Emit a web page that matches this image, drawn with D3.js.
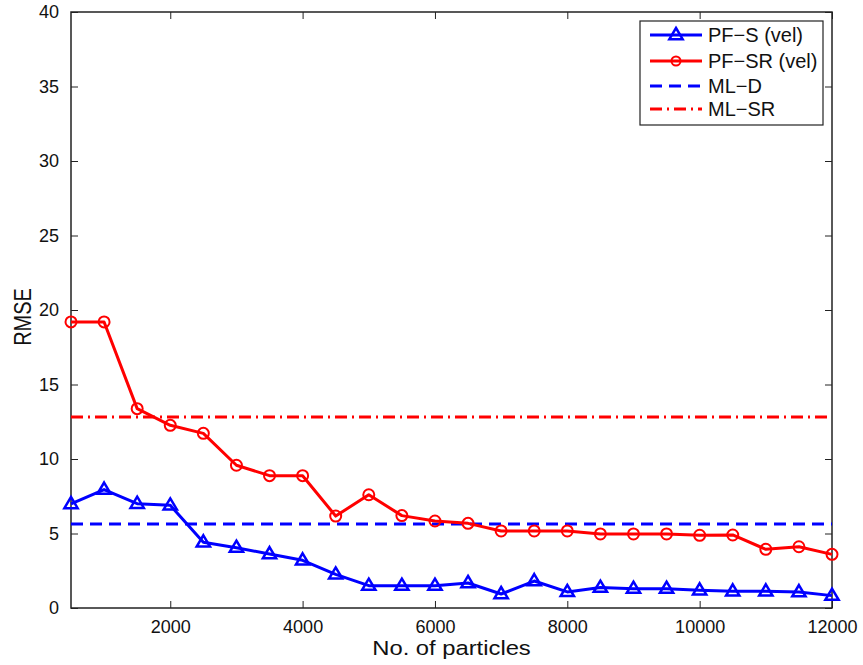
<!DOCTYPE html>
<html>
<head>
<meta charset="utf-8">
<script src="https://cdn.jsdelivr.net/npm/d3@7"></script>
<style>
  html, body { margin: 0; padding: 0; background: #fff; }
  svg text { font-family: "Liberation Sans", Arial, Helvetica, sans-serif; fill: #111; }
</style>
</head>
<body>
<svg id="chart" width="863" height="665"></svg>
<script>
// Number of particles
const particles = [500, 1000, 1500, 2000, 2500, 3000, 3500, 4000, 4500, 5000, 5500, 6000,
                   6500, 7000, 7500, 8000, 8500, 9000, 9500, 10000, 10500, 11000, 11500, 12000];
// RMSE of the particle filters
const pfS  = [6.98, 7.95, 7.0, 6.89, 4.41, 4.05, 3.62, 3.2, 2.26, 1.5, 1.5, 1.5,
              1.68, 0.94, 1.81, 1.08, 1.37, 1.3, 1.3, 1.19, 1.12, 1.12, 1.07, 0.83];
const pfSR = [19.2, 19.2, 13.38, 12.26, 11.72, 9.58, 8.88, 8.88, 6.17, 7.6, 6.2, 5.84,
              5.68, 5.17, 5.17, 5.17, 4.97, 4.97, 4.97, 4.88, 4.9, 3.94, 4.11, 3.6];
// Constant reference levels
const mlD  = 5.64;
const mlSR = 12.82;
const xTicks = [2000, 4000, 6000, 8000, 10000, 12000];
const yTicks = [0, 5, 10, 15, 20, 25, 30, 35, 40];
const legendLabels = ["PF\u2212S (vel)", "PF\u2212SR (vel)", "ML\u2212D", "ML\u2212SR"];

const svg = d3.select("#chart");
const L = 71, R = 832, T = 12, B = 608;
const x = d3.scaleLinear().domain([500, 12000]).range([L, R]);
const y = d3.scaleLinear().domain([0, 40]).range([B, T]);

const blue = "#0000ff", red = "#ff0000";
const dashD = "12,7", dashSR = "12,5,2,5";

// Axes with inward ticks, mirrored on top and right
const tickLen = 7;
svg.append("g").attr("transform", `translate(0,${B})`)
  .call(d3.axisBottom(x).tickValues(xTicks).tickSizeInner(-tickLen).tickSizeOuter(0).tickPadding(12).tickFormat(d3.format("d")))
  .call(g => g.select(".domain").remove())
  .call(g => g.selectAll("text").attr("font-size", 18).attr("dy", "0.71em"));
svg.append("g").attr("transform", `translate(${L},0)`)
  .call(d3.axisLeft(y).tickValues(yTicks).tickSizeInner(-tickLen).tickSizeOuter(0).tickPadding(12))
  .call(g => g.select(".domain").remove())
  .call(g => g.selectAll("text").attr("font-size", 18));
svg.append("g").attr("transform", `translate(0,${T})`)
  .call(d3.axisTop(x).tickValues(xTicks).tickSizeInner(-tickLen).tickSizeOuter(0).tickFormat(""))
  .call(g => g.select(".domain").remove());
svg.append("g").attr("transform", `translate(${R},0)`)
  .call(d3.axisRight(y).tickValues(yTicks).tickSizeInner(-tickLen).tickSizeOuter(0).tickFormat(""))
  .call(g => g.select(".domain").remove());
svg.selectAll(".tick line").attr("stroke", "#222").attr("stroke-width", 1);

svg.append("rect").attr("x", L).attr("y", T).attr("width", R - L).attr("height", B - T)
  .attr("fill", "none").attr("stroke", "#222").attr("stroke-width", 1.5);

// Horizontal reference lines
svg.append("line").attr("x1", x(500)).attr("x2", x(12000)).attr("y1", y(mlSR)).attr("y2", y(mlSR))
  .attr("stroke", red).attr("stroke-width", 3).attr("stroke-dasharray", dashSR);
svg.append("line").attr("x1", x(500)).attr("x2", x(12000)).attr("y1", y(mlD)).attr("y2", y(mlD))
  .attr("stroke", blue).attr("stroke-width", 3).attr("stroke-dasharray", dashD);

const line = d3.line().x(d => x(d[0])).y(d => y(d[1]));
const ptsSR = particles.map((p, i) => [p, pfSR[i]]);
const ptsS = particles.map((p, i) => [p, pfS[i]]);

svg.append("path").datum(ptsSR).attr("d", line).attr("fill", "none")
  .attr("stroke", red).attr("stroke-width", 3).attr("stroke-linejoin", "round");
svg.append("g").selectAll("circle").data(ptsSR).join("circle")
  .attr("cx", d => x(d[0])).attr("cy", d => y(d[1])).attr("r", 5.5)
  .attr("fill", "none").attr("stroke", red).attr("stroke-width", 2);

svg.append("path").datum(ptsS).attr("d", line).attr("fill", "none")
  .attr("stroke", blue).attr("stroke-width", 3).attr("stroke-linejoin", "round");
const tri = (cx, cy, s) => `M${cx},${cy - s}L${cx + s * 0.95},${cy + s * 0.6}L${cx - s * 0.95},${cy + s * 0.6}Z`;
svg.append("g").selectAll("path").data(ptsS).join("path")
  .attr("d", d => tri(x(d[0]), y(d[1]), 7))
  .attr("fill", "none").attr("stroke", blue).attr("stroke-width", 2.5).attr("stroke-linejoin", "miter");

// Axis titles
svg.append("text").attr("transform", `translate(${(L + R) / 2},655) scale(1.16,1)`)
  .attr("text-anchor", "middle").attr("font-size", 20.5).text("No. of particles");
svg.append("text").attr("transform", `translate(31,317) scale(1.2,1) rotate(-90)`)
  .attr("text-anchor", "middle").attr("font-size", 20).text("RMSE");

// Legend
const lg = svg.append("g");
lg.append("rect").attr("x", 640).attr("y", 21).attr("width", 183).attr("height", 104)
  .attr("fill", "#fff").attr("stroke", "#222").attr("stroke-width", 1.2);
const rows = [35, 61, 86, 109];
const styles = [
  { c: blue, dash: null, mark: "tri" },
  { c: red, dash: null, mark: "circ" },
  { c: blue, dash: dashD, mark: null },
  { c: red, dash: dashSR, mark: null }
];
rows.forEach((ry, i) => {
  const s = styles[i];
  lg.append("line").attr("x1", 650).attr("x2", 702).attr("y1", ry).attr("y2", ry)
    .attr("stroke", s.c).attr("stroke-width", 3).attr("stroke-dasharray", s.dash);
  if (s.mark === "tri") lg.append("path").attr("d", tri(676, ry, 7)).attr("fill", "none")
    .attr("stroke", s.c).attr("stroke-width", 2.5);
  if (s.mark === "circ") lg.append("circle").attr("cx", 676).attr("cy", ry).attr("r", 4.5)
    .attr("fill", "none").attr("stroke", s.c).attr("stroke-width", 2);
  lg.append("text").attr("x", 708).attr("y", ry).attr("dy", "0.36em").attr("font-size", 20).text(legendLabels[i]);
});
</script>
</body>
</html>
